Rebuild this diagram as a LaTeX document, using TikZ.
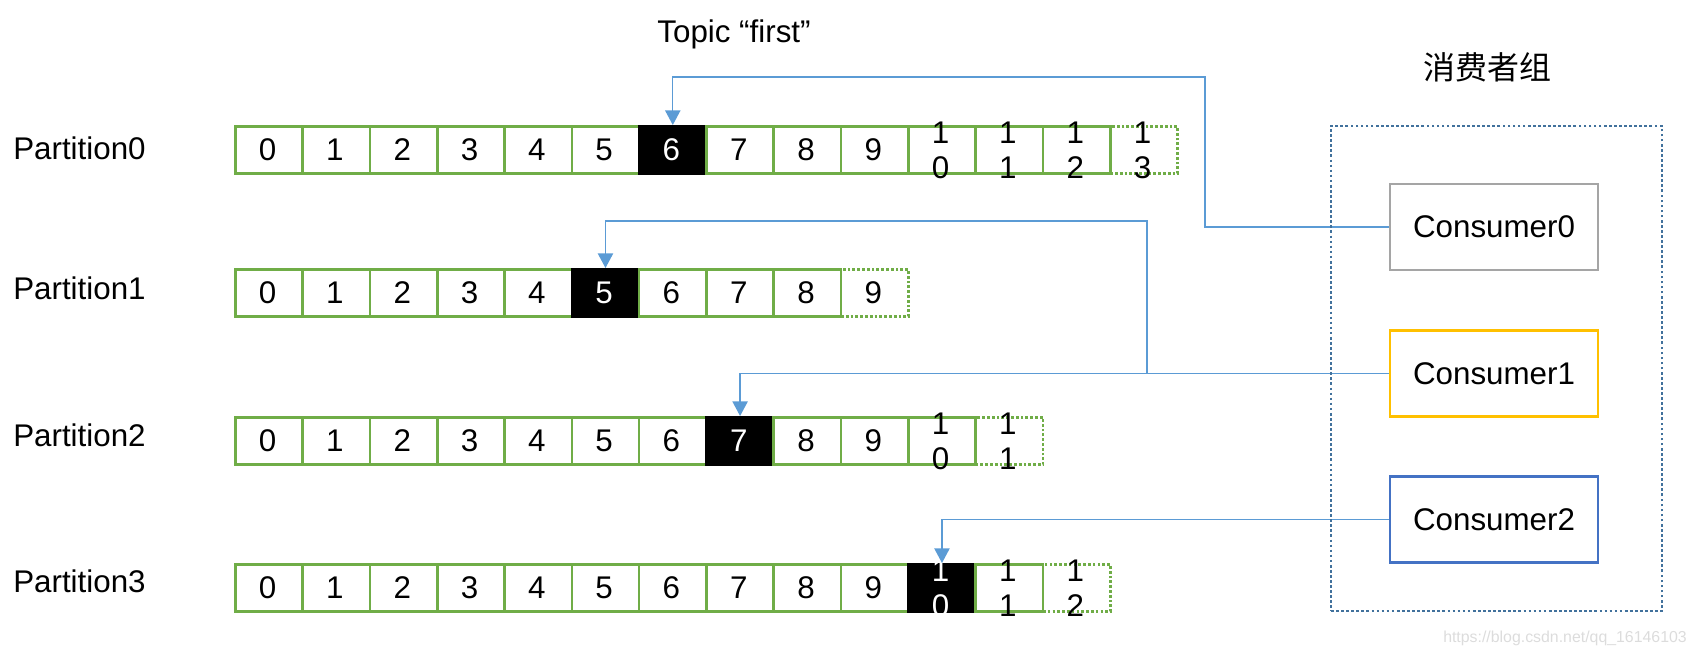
\documentclass[tikz,border=0pt]{standalone}
\usepackage{fontspec}
\setmainfont{Liberation Sans}
\newfontfamily\cjk{Noto Sans CJK SC}
\usetikzlibrary{arrows.meta}
\definecolor{cellgreen}{HTML}{70AD47}
\definecolor{linkblue}{HTML}{5B9BD5}
\definecolor{grpblue}{HTML}{41719C}
\definecolor{cgray}{HTML}{A5A5A5}
\definecolor{cgold}{HTML}{FFC000}
\definecolor{cblue}{HTML}{4472C4}
\definecolor{wmgray}{HTML}{DCDCDC}
\newcommand\cellfont{\fontsize{23.5}{26.25}\selectfont}
\tikzset{
  cell/.style={draw=cellgreen, line width=2pt, minimum width=50.475pt, minimum height=35.6pt,
    inner sep=0pt, anchor=north west, fill=white},
  blkcell/.style={cell, draw=black, fill=black},
  dotcell/.style={cell, dash pattern=on 2pt off 1.6pt},
  digit/.style={font=\cellfont, inner sep=0pt, align=center},
  consumer/.style={draw, line width=2.2pt, minimum width=156pt, minimum height=64.5pt,
    inner sep=0pt, font=\cellfont, fill=white},
  grp/.style={draw=grpblue, line width=2pt, dash pattern=on 2pt off 1.8pt,
    minimum width=248.25pt, minimum height=363.75pt, inner sep=0pt},
  link/.style={draw=linkblue, line width=1pt},
  linkarrow/.style={link, -{Triangle[width=11.5pt,length=11pt]}},
  plabel/.style={anchor=base west, font=\cellfont, inner sep=0pt},
}
\begin{document}
\begin{tikzpicture}[x=0.75pt,y=-0.75pt]
\useasboundingbox (0,0) rectangle (1696,657);
% title texts
\node[anchor=base, font=\cellfont, inner sep=0pt] (topic) at (734,42) {Topic “first”};
\node[font=\cjk\fontsize{24}{28}\selectfont, inner sep=0pt] (grptitle) at (1487,67) {消费者组};
% partition labels
\node[plabel] (l0) at (13,159) {Partition0};
\node[plabel] (l1) at (13,299) {Partition1};
\node[plabel] (l2) at (13,446) {Partition2};
\node[plabel] (l3) at (13,592) {Partition3};
% cells
\foreach \r/\top/\n/\blk in {0/125/13/6, 1/268/9/5, 2/416/11/7, 3/563/12/10} {
  \node[dotcell] (p\r c\n) at ({234+\n*67.3},\top) {};
  \pgfmathtruncatemacro\last{\n-1}
  \foreach \i in {0,...,\last} {
    \ifnum\i=\blk\def\sty{blkcell}\else\def\sty{cell}\fi
    \node[\sty] (p\r c\i) at ({234+\i*67.3},\top) {};
  }
  \foreach \i in {0,...,\n} {
    \ifnum\i=\blk\def\tcol{white}\else\def\tcol{black}\fi
    \ifnum\i>9
      \pgfmathtruncatemacro\lo{\i-10}
      \node[digit, text=\tcol] (t\r c\i) at ({234+(\i+0.5)*67.3},{\top+25.5}) {1\\\lo};
    \else
      \node[digit, text=\tcol, anchor=base] (t\r c\i) at ({234+(\i+0.5)*67.3},{\top+35}) {\i};
    \fi
  }
}
% consumers
\node[consumer, draw=cgray] (c0) at (1494,227) {Consumer0};
\node[consumer, draw=cgold] (c1) at (1494,373.5) {Consumer1};
\node[consumer, draw=cblue] (c2) at (1494,519.5) {Consumer2};
% connectors
\coordinate (b0) at (1205,77);
\coordinate (b1) at (1147,221);
\draw[linkarrow] (c0.west) -| (b0) -| (p0c6.north);
\draw[linkarrow] (c1.west) -| (b1) -| (p1c5.north);
\draw[linkarrow] (c1.west) -| (p2c7.north);
\draw[linkarrow] (c2.west) -| (p3c10.north);
% group box
\node[grp] (grp) at (1496.5,368.5) {};
% watermark
\node[anchor=east, font=\fontsize{11.9}{14}\selectfont, text=wmgray, inner sep=0pt] (wm) at (1687,638) {https://blog.csdn.net/qq\_16146103};
\end{tikzpicture}
\end{document}
